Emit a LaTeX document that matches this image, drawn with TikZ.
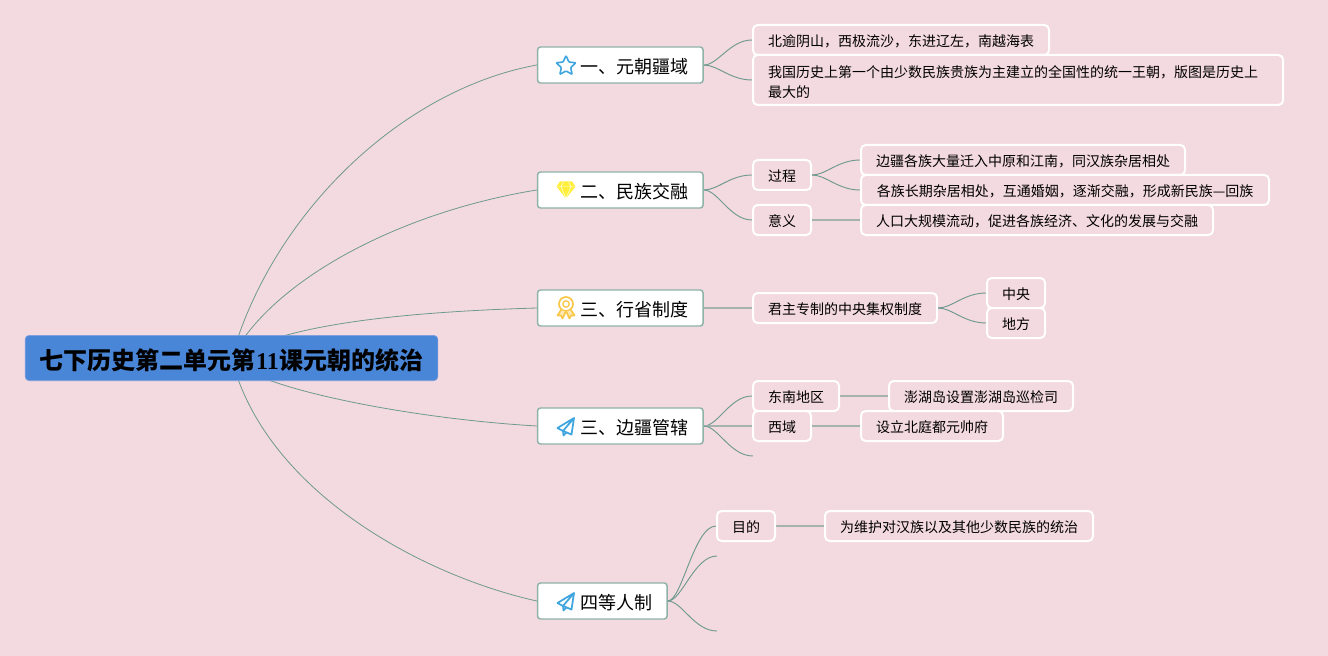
\documentclass[tikz,border=0pt]{standalone}
\usepackage{fontspec}
\setmainfont{Noto Sans CJK SC}
\newfontfamily\latinbold{Liberation Serif}
\usetikzlibrary{shapes.geometric,backgrounds}
\definecolor{bgpink}{HTML}{F3D9E0}
\definecolor{rootblue}{HTML}{4A86D8}
\definecolor{rootedge}{HTML}{7F9FE0}
\definecolor{branch}{HTML}{6F9A8F}
\definecolor{straightl}{HTML}{A6B2AE}
\definecolor{boxedge}{HTML}{8FB2A9}
\definecolor{iconblue}{HTML}{3FA5DF}
\definecolor{iconyellow}{HTML}{FFEF3A}
\definecolor{iconorange}{HTML}{F9C84B}
\tikzset{
  x=0.75pt,y=-0.75pt,
  rootnode/.style={rectangle,rounded corners=3pt,fill=rootblue,draw=rootedge,line width=.5pt,
    minimum width=309.5pt,minimum height=34pt,inner sep=0pt,text height=17.3pt,text depth=0pt,font=\fontsize{18pt}{22pt}\selectfont\bfseries},
  topic/.style 2 args={rectangle,rounded corners=2.2pt,fill=white,draw=boxedge,line width=1.1pt,
    minimum width=#1*0.75pt,minimum height=#2*0.75pt,inner sep=0pt,text height=12.4pt,text depth=0pt,font=\fontsize{13.5pt}{16pt}\selectfont},
  subbase/.style 2 args={rectangle,rounded corners=3.5pt,fill=bgpink,draw=white,line width=1.5pt,
    minimum width=#1*0.75pt,minimum height=#2*0.75pt,inner sep=0pt,align=left,font=\fontsize{10.5pt}{15pt}\selectfont},
  sub/.style 2 args={subbase={#1}{#2},text height=10.3pt,text depth=0pt},
  curvel/.style={draw=branch,line width=.7pt},
  rootl/.style={draw=branch,line width=.6pt},
  flatl/.style={draw=straightl,line width=1pt},
  iconline/.style={line width=1.3pt,line join=round,line cap=round}
}
\begin{document}
\begin{tikzpicture}
\useasboundingbox (0,0) rectangle (1328,656);

\node[rootnode] (root) at (231.5,358) {七下历史第二单元第\hspace{.75pt}{\latinbold 11}\hspace{.75pt}课元朝的统治};

\node[topic={165.5}{36}] (t1) at (620.3,65) {\hspace*{21.5pt}一、元朝疆域};
\node[topic={165.5}{36}] (t2) at (620.3,190) {\hspace*{21.5pt}二、民族交融};
\node[topic={165.5}{36}] (t3) at (620.3,308) {\hspace*{21.5pt}三、行省制度};
\node[topic={165.5}{36}] (t4) at (620.3,426) {\hspace*{21.5pt}三、边疆管辖};
\node[topic={129.5}{36}] (t5) at (602.3,601) {\hspace*{21.5pt}四等人制};

\node[sub={296}{30}] (a1) at (901,40) {北逾阴山，西极流沙，东进辽左，南越海表};
\node[subbase={530}{50},text width=375pt] (a2) at (1018,80) {\rule{0pt}{11.5pt}我国历史上第一个由少数民族贵族为主建立的全国性的统一王朝，版图是历史上\\最大的};

\node[sub={58}{30}] (b1) at (782,175) {过程};
\node[sub={58}{30}] (b2) at (782,220) {意义};
\node[sub={324}{30}] (b3) at (1023,160) {边疆各族大量迁入中原和江南，同汉族杂居相处};
\node[sub={408}{30}] (b4) at (1065,190) {各族长期杂居相处，互通婚姻，逐渐交融，形成新民族—回族};
\node[sub={352}{30}] (b5) at (1037,220) {人口大规模流动，促进各族经济、文化的发展与交融};

\node[sub={184}{30}] (c1) at (845,308) {君主专制的中央集权制度};
\node[sub={58}{30}] (c2) at (1016,293) {中央};
\node[sub={58}{30}] (c3) at (1016,323) {地方};

\node[sub={86}{30}] (d1) at (796,396) {东南地区};
\node[sub={184}{30}] (d2) at (981,396) {澎湖岛设置澎湖岛巡检司};
\node[sub={58}{30}] (d3) at (782,426) {西域};
\node[sub={142}{30}] (d4) at (932,426) {设立北庭都元帅府};
\coordinate (d5) at (753,456);

\node[sub={58}{30}] (e1) at (746,526) {目的};
\node[sub={268}{30}] (e2) at (959,526) {为维护对汉族以及其他少数民族的统治};
\coordinate (e3) at (717,556);
\coordinate (e4) at (717,631);

\begin{scope}[on background layer]
  \fill[bgpink] (0,0) rectangle (1328,656);
  \draw[rootl] (root.center) .. controls (272,215) and (400,90) .. (t1.west);
  \draw[rootl] (root.center) .. controls (272,280) and (400,212) .. (t2.west);
  \draw[rootl] (root.center) .. controls (280,325) and (400,312) .. (t3.west);
  \draw[rootl] (root.center) .. controls (245,385) and (400,418) .. (t4.west);
  \draw[rootl] (root.center) .. controls (265,490) and (420,575) .. (t5.west);
\end{scope}

\draw[curvel] (t1.east) .. controls (718,65) and (730,40) .. (a1.west);
\draw[curvel] (t1.east) .. controls (718,65) and (730,80) .. (a2.west);
\draw[curvel] (t2.east) .. controls (718,190) and (730,175) .. (b1.west);
\draw[curvel] (t2.east) .. controls (718,190) and (730,220) .. (b2.west);
\draw[curvel] (b1.east) .. controls (826,175) and (838,160) .. (b3.west);
\draw[curvel] (b1.east) .. controls (826,175) and (838,190) .. (b4.west);
\draw[flatl] (b2.east) -- (b5.west);
\draw[flatl] (t3.east) -- (c1.west);
\draw[curvel] (c1.east) .. controls (952,308) and (964,293) .. (c2.west);
\draw[curvel] (c1.east) .. controls (952,308) and (964,323) .. (c3.west);
\draw[curvel] (t4.east) .. controls (718,426) and (730,396) .. (d1.west);
\draw[flatl] (t4.east) -- (d3.west);
\draw[curvel] (t4.east) .. controls (718,426) and (730,456) .. (d5);
\draw[flatl] (d1.east) -- (d2.west);
\draw[flatl] (d3.east) -- (d4.west);
\draw[curvel] (t5.east) .. controls (682,601) and (694,526) .. (e1.west);
\draw[curvel] (t5.east) .. controls (682,601) and (694,556) .. (e3);
\draw[curvel] (t5.east) .. controls (682,601) and (694,631) .. (e4);
\draw[flatl] (e1.east) -- (e2.west);

% icons
\node[star,star points=5,star point ratio=2.1,draw=iconblue,line width=1.2pt,minimum size=15.5pt,inner sep=0pt,rounded corners=.6pt] (i1) at (566,66) {};

\fill[iconyellow] (560,181.5) -- (572,181.5) -- (575.5,186.5) -- (566,198.5) -- (556.5,186.5) -- cycle;
\draw[white,line width=.35pt] (556.5,186.5) -- (575.5,186.5) (561,186.5) -- (566,198.5) -- (571,186.5) (561,186.5) -- (563.5,182) (571,186.5) -- (568.5,182);

\draw[iconorange,iconline] (566,304) circle (7);
\draw[iconorange,iconline,line width=1pt] (566,304) circle (3.2);
\draw[iconorange,iconline,fill=iconorange!40] (561,310) -- (557.5,315.5) -- (561,315.5) -- (562.5,318.5) -- (565.5,312);
\draw[iconorange,iconline,fill=iconorange!40] (571,310) -- (574.5,315.5) -- (571,315.5) -- (569.5,318.5) -- (566.5,312);

\draw[iconblue,iconline] (574,418) -- (557.5,428) -- (563,431) -- (574,418) -- (571.5,434.5) -- (565.5,432) -- (563,431);
\draw[iconblue,iconline] (563,431) -- (563.5,435.5) -- (566.5,432.5);

\begin{scope}[yshift=-131.25pt]
\draw[iconblue,iconline] (574,418) -- (557.5,428) -- (563,431) -- (574,418) -- (571.5,434.5) -- (565.5,432) -- (563,431);
\draw[iconblue,iconline] (563,431) -- (563.5,435.5) -- (566.5,432.5);
\end{scope}
\end{tikzpicture}
\end{document}
